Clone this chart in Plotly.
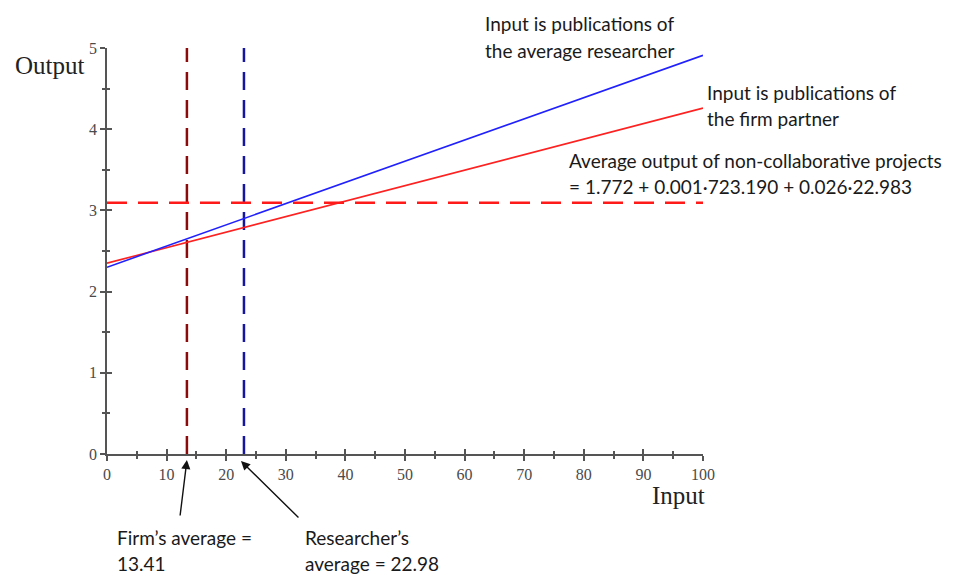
import plotly.graph_objects as go

# ---- data ----
input_x = [0, 100]
researcher_output = [2.30, 4.91]   # input is publications of the average researcher
firm_output = [2.35, 4.26]         # input is publications of the firm partner
noncollab_avg = 1.772 + 0.001 * 723.190 + 0.026 * 22.983
firm_avg = 13.41
researcher_avg = 22.98
y_span = [0, 5]
x_ticks = [0, 10, 20, 30, 40, 50, 60, 70, 80, 90, 100]
y_ticks = [0, 1, 2, 3, 4, 5]

# page body has an 8px margin; the figure is sized to fit the 954x577 window
OFF = 8
W, H = 954 - OFF, 577 - OFF
L, T = 107 - OFF, 48 - OFF
pw, ph = 596, 406
R, B = W - L - pw, H - T - ph

fig = go.Figure()

fig.add_trace(go.Scatter(x=[firm_avg, firm_avg], y=y_span, mode="lines",
                         line=dict(color="#8B0A0A", width=2.5, dash="18px,10px"),
                         showlegend=False, hoverinfo="skip"))
fig.add_trace(go.Scatter(x=[researcher_avg, researcher_avg], y=y_span, mode="lines",
                         line=dict(color="#1515A0", width=2.5, dash="18px,10px"),
                         showlegend=False, hoverinfo="skip"))
fig.add_trace(go.Scatter(x=input_x, y=[noncollab_avg, noncollab_avg], mode="lines",
                         line=dict(color="#FF1A1A", width=2.5, dash="20px,11px"),
                         showlegend=False, hoverinfo="skip", xaxis="x2", yaxis="y2"))
fig.add_trace(go.Scatter(x=input_x, y=firm_output, mode="lines",
                         line=dict(color="#FF2020", width=1.6),
                         showlegend=False, hoverinfo="skip"))
fig.add_trace(go.Scatter(x=input_x, y=researcher_output, mode="lines",
                         line=dict(color="#2020FF", width=1.6),
                         showlegend=False, hoverinfo="skip"))

axis_col = "#555555"
tickfont = dict(family="Liberation Serif", size=16, color="#4a4a4a")

fig.update_layout(
    width=W, height=H,
    margin=dict(l=L, r=R, t=T, b=B),
    paper_bgcolor="white", plot_bgcolor="white",
    xaxis=dict(range=[0, 100], tickvals=x_ticks, ticktext=[str(v) for v in x_ticks],
               showgrid=False, zeroline=False, showline=True, linecolor=axis_col, linewidth=1.5,
               ticks="outside", ticklen=5, tickcolor=axis_col, tickwidth=1.5,
               minor=dict(ticks="outside", dtick=5, tick0=0, ticklen=3, tickcolor=axis_col, tickwidth=1.5),
               tickfont=tickfont, fixedrange=True),
    yaxis=dict(range=[0, 5], tickvals=y_ticks, ticktext=[str(v) for v in y_ticks],
               showgrid=False, zeroline=False, showline=True, linecolor=axis_col, linewidth=1.5,
               ticks="outside", ticklen=5, tickcolor=axis_col, tickwidth=1.5,
               minor=dict(ticks="outside", dtick=0.5, tick0=0, ticklen=3, tickcolor=axis_col, tickwidth=1.5),
               tickfont=tickfont, fixedrange=True),
    xaxis2=dict(range=[0, 100], overlaying="x", anchor="y", side="bottom",
                showgrid=False, zeroline=False, showline=False, showticklabels=False,
                tickvals=x_ticks, ticks="inside", ticklen=5, tickcolor=axis_col, tickwidth=1.5,
                minor=dict(ticks="inside", dtick=5, tick0=0, ticklen=3, tickcolor=axis_col, tickwidth=1.5),
                fixedrange=True),
    yaxis2=dict(range=[0, 5], overlaying="y", anchor="x", side="left",
                showgrid=False, zeroline=False, showline=False, showticklabels=False,
                tickvals=y_ticks, ticks="inside", ticklen=5, tickcolor=axis_col, tickwidth=1.5,
                minor=dict(ticks="inside", dtick=0.5, tick0=0, ticklen=3, tickcolor=axis_col, tickwidth=1.5),
                fixedrange=True),
)

# helpers: positions given in reference-image pixels
def px(xp):
    return (xp - 107) / pw

def py(yp):
    return (454 - yp) / ph

sans = dict(family="Lato", size=19, color="#1a1a1a")
serif_big = dict(family="Liberation Serif", size=25, color="#222222")

texts = [
    ("Output", 13, 65, serif_big),
    ("Input", 650, 495, serif_big),
    ("Input is publications of", 483, 23, sans),
    ("the average researcher", 483, 50, sans),
    ("Input is publications of", 705, 92, sans),
    ("the firm partner", 705, 118, sans),
    ("Average output of non-collaborative projects", 567, 160, sans),
    ("= 1.772 + 0.001\u2219723.190 + 0.026\u221922.983", 567, 186, sans),
    ("Firm\u2019s average =", 115, 537, sans),
    ("13.41", 115, 563, sans),
    ("Researcher\u2019s", 303, 537, sans),
    ("average = 22.98", 303, 563, sans),
]
for t, xpx, ypx, f in texts:
    fig.add_annotation(text=t, x=px(xpx), y=py(ypx), xref="paper", yref="paper",
                       xanchor="left", yanchor="middle", showarrow=False, font=f)

# arrows pointing at the averages on the input axis
fig.add_annotation(x=firm_avg, y=py(460), xref="x", yref="paper", text="", showarrow=True,
                   ax=-7, ay=57, arrowhead=2, arrowsize=1.3, arrowwidth=1.4, arrowcolor="#111111")
fig.add_annotation(x=researcher_avg - 0.5, y=py(461), xref="x", yref="paper", text="", showarrow=True,
                   ax=59, ay=58, arrowhead=2, arrowsize=1.3, arrowwidth=1.4, arrowcolor="#111111")

fig.write_html("out.html")
